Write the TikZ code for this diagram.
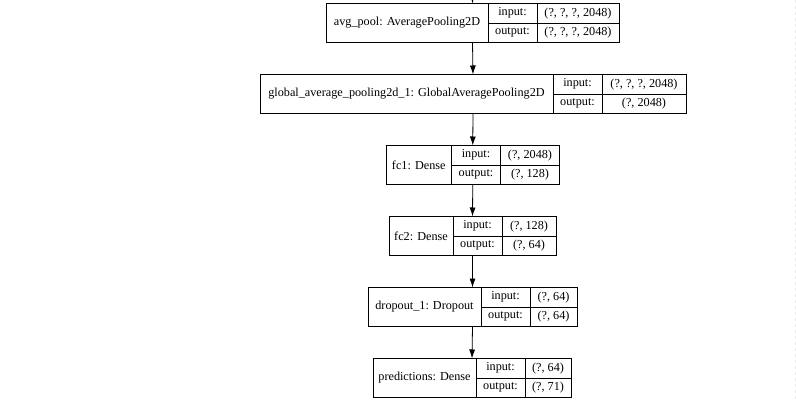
\documentclass[tikz,border=0pt]{standalone}
\usepackage{fontspec}
\setmainfont{Liberation Serif}
\usetikzlibrary{positioning}
\usetikzlibrary{fit}
\usetikzlibrary{arrows.meta}

\begin{document}
\begin{tikzpicture}[x=1pt, y=-1pt, font=\fontsize{12.2}{14}\selectfont]
        \tikzstyle{name_cell} = [rectangle, draw, line width=0.8, inner sep=0, outer sep=0, minimum height=39, anchor=west]
        \tikzstyle{io_cell} = [rectangle, draw, line width=0.8, inner sep=0, outer sep=0, minimum height=19.5, minimum width=49]
        \tikzstyle{shape_cell} = [rectangle, draw, line width=0.8, inner sep=0, outer sep=0, minimum height=19.5]
        \tikzstyle{layer_box} = [inner sep=0, outer sep=0]
        \tikzstyle{arrow_style1} = [-{Latex[length=9, width=6]}, black, line width=0.8]

        \useasboundingbox (0,0) rectangle (796,401);
        \draw[black!8, dashed] (795,0) -- (795,401);

        % avg_pool
        \node[name_cell, minimum width=162] (n1) at (326,23) {avg\_pool: AveragePooling2D};
        \node[io_cell, below right=0pt and 0pt of n1.north east] (i1) {input:};
        \node[io_cell, below=0pt of i1] (o1) {output:};
        \node[shape_cell, minimum width=82, right=0pt of i1] (si1) {(?, ?, ?, 2048)};
        \node[shape_cell, minimum width=82, right=0pt of o1] (so1) {(?, ?, ?, 2048)};
        \node[layer_box, fit=(n1)(si1)(so1)] (b1) {};

        % global_average_pooling2d_1
        \node[name_cell, minimum width=293] (n2) at (260,94) {global\_average\_pooling2d\_1: GlobalAveragePooling2D};
        \node[io_cell, below right=0pt and 0pt of n2.north east] (i2) {input:};
        \node[io_cell, below=0pt of i2] (o2) {output:};
        \node[shape_cell, minimum width=84, right=0pt of i2] (si2) {(?, ?, ?, 2048)};
        \node[shape_cell, minimum width=84, right=0pt of o2] (so2) {(?, 2048)};
        \node[layer_box, fit=(n2)(si2)(so2)] (b2) {};

        % fc1
        \node[name_cell, minimum width=65.5] (n3) at (386,165) {fc1: Dense};
        \node[io_cell, below right=0pt and 0pt of n3.north east] (i3) {input:};
        \node[io_cell, below=0pt of i3] (o3) {output:};
        \node[shape_cell, minimum width=59, right=0pt of i3] (si3) {(?, 2048)};
        \node[shape_cell, minimum width=59, right=0pt of o3] (so3) {(?, 128)};
        \node[layer_box, fit=(n3)(si3)(so3)] (b3) {};

        % fc2
        \node[name_cell, minimum width=64] (n4) at (389,236) {fc2: Dense};
        \node[io_cell, below right=0pt and 0pt of n4.north east] (i4) {input:};
        \node[io_cell, below=0pt of i4] (o4) {output:};
        \node[shape_cell, minimum width=54, right=0pt of i4] (si4) {(?, 128)};
        \node[shape_cell, minimum width=54, right=0pt of o4] (so4) {(?, 64)};
        \node[layer_box, fit=(n4)(si4)(so4)] (b4) {};

        % dropout_1
        \node[name_cell, minimum width=113] (n5) at (368,307) {dropout\_1: Dropout};
        \node[io_cell, below right=0pt and 0pt of n5.north east] (i5) {input:};
        \node[io_cell, below=0pt of i5] (o5) {output:};
        \node[shape_cell, minimum width=47, right=0pt of i5] (si5) {(?, 64)};
        \node[shape_cell, minimum width=47, right=0pt of o5] (so5) {(?, 64)};
        \node[layer_box, fit=(n5)(si5)(so5)] (b5) {};

        % predictions
        \node[name_cell, minimum width=103] (n6) at (373,378) {predictions: Dense};
        \node[io_cell, below right=0pt and 0pt of n6.north east] (i6) {input:};
        \node[io_cell, below=0pt of i6] (o6) {output:};
        \node[shape_cell, minimum width=46, right=0pt of i6] (si6) {(?, 64)};
        \node[shape_cell, minimum width=46, right=0pt of o6] (so6) {(?, 71)};
        \node[layer_box, fit=(n6)(si6)(so6)] (b6) {};

        \coordinate (b0) at (472.5,-30);
        \draw[arrow_style1] (b0) -- (b1.north);
        \draw[arrow_style1] (b1.south) -- (b2.north);
        \draw[arrow_style1] (b2.south) -- (b3.north);
        \draw[arrow_style1] (b3.south) -- (b4.north);
        \draw[arrow_style1] (b4.south) -- (b5.north);
        \draw[arrow_style1] (b5.south) -- (b6.north);

\end{tikzpicture}
\end{document}
